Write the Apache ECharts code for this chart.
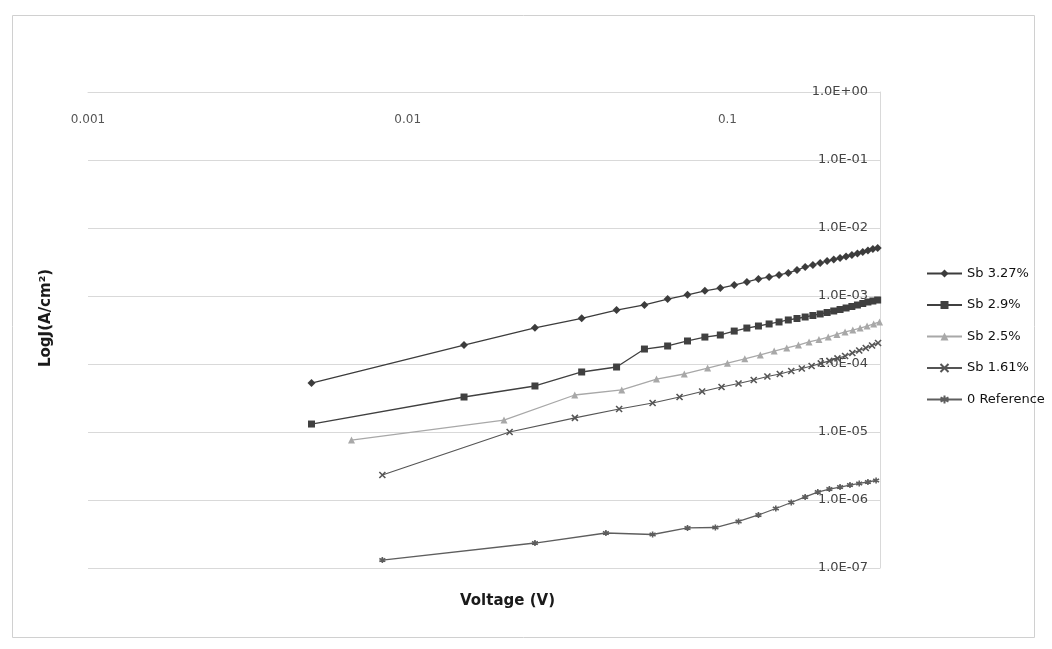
<!DOCTYPE html>
<html>
<head>
<meta charset="utf-8">
<script src="https://cdn.jsdelivr.net/npm/echarts@6/dist/echarts.min.js"></script>
<style>
html,body{margin:0;padding:0;background:#fff;}
#chart{width:1052px;height:649px;}
</style>
</head>
<body>
<div id="chart"></div>
<script>
// ---- Data (voltage in V, current density in A/cm^2) ----
const seriesNames = ["Sb 3.27%", "Sb 2.9%", "Sb 2.5%", "Sb 1.61%", "0 Reference"];

const sb327V = [0.005,0.015,0.025,0.035,0.045,0.055,0.065,0.075,0.085,0.095,0.105,0.115,0.125,0.135,0.145,0.155,0.165,0.175,0.185,0.195,0.205,0.215,0.225,0.235,0.245,0.255,0.265,0.275,0.285,0.295];
const sb327J = [5.25e-5,1.9e-4,3.4e-4,4.7e-4,6.2e-4,7.4e-4,9.0e-4,1.04e-3,1.19e-3,1.31e-3,1.45e-3,1.61e-3,1.78e-3,1.90e-3,2.04e-3,2.18e-3,2.41e-3,2.67e-3,2.86e-3,3.06e-3,3.27e-3,3.44e-3,3.62e-3,3.81e-3,4.01e-3,4.22e-3,4.44e-3,4.67e-3,4.91e-3,5.08e-3];

const sb29V = [0.005,0.015,0.025,0.035,0.045,0.055,0.065,0.075,0.085,0.095,0.105,0.115,0.125,0.135,0.145,0.155,0.165,0.175,0.185,0.195,0.205,0.215,0.225,0.235,0.245,0.255,0.265,0.275,0.285,0.295];
const sb29J = [1.31e-5,3.27e-5,4.75e-5,7.63e-5,9.03e-5,1.66e-4,1.84e-4,2.18e-4,2.49e-4,2.67e-4,3.05e-4,3.38e-4,3.62e-4,3.88e-4,4.15e-4,4.44e-4,4.67e-4,4.91e-4,5.17e-4,5.44e-4,5.72e-4,6.02e-4,6.33e-4,6.66e-4,7.01e-4,7.37e-4,7.76e-4,8.16e-4,8.44e-4,8.73e-4];

const sb25V = [0.00667,0.02,0.0333,0.0467,0.06,0.0733,0.0867,0.1,0.1133,0.1267,0.14,0.1533,0.1667,0.18,0.1933,0.2067,0.22,0.2333,0.2467,0.26,0.2733,0.2867,0.2990];
const sb25J = [7.62e-6,1.50e-5,3.50e-5,4.15e-5,6.01e-5,7.13e-5,8.73e-5,1.03e-4,1.19e-4,1.36e-4,1.55e-4,1.72e-4,1.90e-4,2.11e-4,2.29e-4,2.49e-4,2.72e-4,2.96e-4,3.16e-4,3.38e-4,3.62e-4,3.88e-4,4.15e-4];

const sb161V = [0.00833,0.02083,0.03333,0.04583,0.05833,0.07083,0.08333,0.09583,0.10833,0.12083,0.13333,0.14583,0.15833,0.17083,0.18333,0.19583,0.20833,0.22083,0.23333,0.24583,0.25833,0.27083,0.28333,0.29583];
const sb161J = [2.33e-6,1.0e-5,1.61e-5,2.18e-5,2.67e-5,3.27e-5,3.94e-5,4.59e-5,5.17e-5,5.82e-5,6.55e-5,7.13e-5,7.89e-5,8.59e-5,9.35e-5,1.02e-4,1.11e-4,1.21e-4,1.31e-4,1.45e-4,1.58e-4,1.72e-4,1.87e-4,2.04e-4];

const refV = [0.00833,0.025,0.04167,0.05833,0.075,0.09167,0.10833,0.125,0.14167,0.15833,0.175,0.19167,0.20833,0.225,0.24167,0.25833,0.275,0.29167];
const refJ = [1.31e-7,2.33e-7,3.27e-7,3.11e-7,3.88e-7,3.94e-7,4.83e-7,6.02e-7,7.50e-7,9.19e-7,1.11e-6,1.31e-6,1.45e-6,1.55e-6,1.66e-6,1.75e-6,1.84e-6,1.94e-6];

const xTickLabels = ["0.001", "0.01", "0.1"];
const xAxisTitle = "Voltage (V)";
const yAxisTitle = "LogJ(A/cm²)";

// ---- Build ----
function pairs(xs, ys) { return xs.map((x, i) => [x, ys[i]]); }

const X_PATH = 'path://M0,0L10,10M10,0L0,10';
const STAR_PATH = 'path://M5,0L5,10M0,2.5L10,7.5M0,7.5L10,2.5';

const styles = [
  {color:'#3c3c3c', symbol:'diamond', size:8, lw:1.3},
  {color:'#404040', symbol:'rect', size:7, lw:1.3},
  {color:'#a8a8a8', symbol:'triangle', size:7, lw:1.3},
  {color:'#555555', symbol:X_PATH, size:6, lw:1.2, stroke:true},
  {color:'#5e5e5e', symbol:STAR_PATH, size:6, lw:1.3, stroke:true}
];
const dataSets = [pairs(sb327V, sb327J), pairs(sb29V, sb29J), pairs(sb25V, sb25J), pairs(sb161V, sb161J), pairs(refV, refJ)];

const series = seriesNames.map((name, i) => {
  const s = styles[i];
  return {
    name: name,
    type: 'line',
    data: dataSets[i],
    symbol: s.symbol,
    symbolSize: s.size,
    showSymbol: true,
    showAllSymbol: true,
    lineStyle: {color: s.color, width: s.lw},
    itemStyle: s.stroke ? {color: s.color, borderColor: s.color, borderWidth: 1.6} : {color: s.color},
    emphasis: {disabled: true},
    animation: false,
    z: 5 - i
  };
});

function isPow10(v) {
  const e = Math.log10(v);
  return Math.abs(e - Math.round(e)) < 1e-6;
}

const chart = echarts.init(document.getElementById('chart'), null, {renderer: 'canvas'});
chart.setOption({
  backgroundColor: '#ffffff',
  animation: false,
  grid: {left: 88, right: 172, top: 92, bottom: 81, containLabel: false},
  xAxis: {
    type: 'log', logBase: 10, min: 0.001, max: 0.3,
    position: 'top',
    axisLine: {show: true, onZero: false, lineStyle: {color: '#d9d9d9', width: 1}},
    axisTick: {show: false},
    splitLine: {show: false},
    axisLabel: {
      inside: true, margin: 22, color: '#555555', fontFamily: 'DejaVu Sans', fontSize: 12,
      formatter: function (v) {
        if (!isPow10(v)) return '';
        const e = Math.round(Math.log10(v));
        return xTickLabels[e + 3] || '';
      }
    }
  },
  yAxis: {
    type: 'log', logBase: 10, min: 1e-7, max: 1,
    position: 'right',
    axisLine: {show: true, lineStyle: {color: '#d9d9d9', width: 1}},
    axisTick: {show: false},
    splitLine: {show: true, lineStyle: {color: '#d9d9d9', width: 1}},
    axisLabel: {
      inside: true, margin: 12, color: '#444444', fontFamily: 'DejaVu Sans', fontSize: 13,
      formatter: function (v) {
        if (!isPow10(v)) return '';
        const e = Math.round(Math.log10(v));
        const a = Math.abs(e);
        return '1.0E' + (e >= 0 ? '+' : '-') + (a < 10 ? '0' + a : '' + a);
      }
    }
  },
  legend: {
    orient: 'vertical', left: 921, top: 262,
    itemWidth: 35, itemHeight: 10, itemGap: 18.5,
    data: seriesNames,
    textStyle: {color: '#111111', fontFamily: 'DejaVu Sans', fontSize: 13}
  },
  graphic: [
    {type: 'rect', shape: {x: 12.5, y: 15.5, width: 1022, height: 622},
     style: {fill: 'none', stroke: '#d0d0d0', lineWidth: 1}, silent: true, z: -1},
    {type: 'text', x: 460, y: 594,
     style: {text: xAxisTitle, font: 'bold 15px "DejaVu Sans"', fill: '#1a1a1a', textAlign: 'left', textVerticalAlign: 'top'}},
    {type: 'text', rotation: Math.PI / 2, x: 39, y: 367,
     style: {text: yAxisTitle, font: 'bold 15px "DejaVu Sans"', fill: '#1a1a1a', textAlign: 'left', textVerticalAlign: 'top'}}
  ],
  series: series
});
</script>
</body>
</html>
